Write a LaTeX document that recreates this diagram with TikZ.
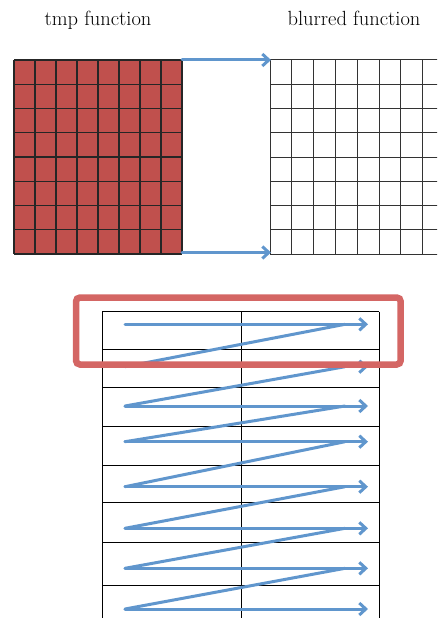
\documentclass[tikz,border=0pt]{standalone}
\usetikzlibrary{arrows.meta}
\definecolor{TmpRed}{RGB}{192,80,77}
\definecolor{FrameRed}{RGB}{212,102,100}
\definecolor{ScanBlue}{RGB}{96,150,205}

\begin{document}
\begin{tikzpicture}[x=1pt,y=-1pt,>={Straight Barb[length=6.5pt,width=12pt]},
    title/.style={anchor=base,font=\fontsize{20.5}{24}\selectfont},
    scan/.style={ScanBlue,line width=3pt,line cap=round}]
  \useasboundingbox (0,0) rectangle (437,618);
  \clip (0,0) rectangle (437,618);
  % titles
  \node[title] (tmptitle) at (98,26) {tmp function};
  \node[title] (blurtitle) at (354,26) {blurred function};
  % tmp grid
  \fill[TmpRed] (14,60) rectangle (182,254);
  \foreach \i in {0,...,8} {
    \draw[line width=1.2pt,black!85] (14+21*\i,60) -- (14+21*\i,254);
    \draw[line width=1.2pt,black!85] (14,60+24.25*\i) -- (182,60+24.25*\i);
  }
  % blurred grid
  \foreach \i in {0,...,8} {
    \draw[line width=1pt,black!80] (270+21.8*\i,60) -- (270+21.8*\i,254);
    \draw[line width=1pt,black!80] (270,60+24.25*\i) -- (445,60+24.25*\i);
  }
  \coordinate (tmpNE) at (182,60);
  \coordinate (tmpSE) at (182,252.5);
  \coordinate (blurNW) at (271,60);
  \coordinate (blurSW) at (271,252.5);
  \draw[->,scan] (tmpNE) -- (blurNW);
  \draw[->,scan] (tmpSE) -- (blurSW);
  % row table
  \foreach \x in {102,241,379}
    \draw[line width=0.8pt] (\x,311.7) -- (\x,618);
  \foreach \y in {311.7,349.3,387.7,426.7,465,502.7,542.7,585.3}
    \draw[line width=0.8pt] (102,\y) -- (379,\y);
  % scan order
  \foreach \y [count=\k] in {324.3,366.7,406,441.7,486.7,528.3,568.3,609} {
    \coordinate (s\k) at (125,\y);
    \coordinate (m\k) at (345,\y);
    \coordinate (e\k) at (368,\y);
    \draw[->,scan] (s\k) -- (e\k);
  }
  \foreach \k [evaluate=\k as \j using int(\k+1)] in {1,...,7}
    \draw[scan] (s\j) -- (m\k);
  % current row
  \draw[FrameRed,line width=6.5pt,rounded corners=4pt] (76,297.5) rectangle (400.7,364.5);
\end{tikzpicture}
\end{document}
